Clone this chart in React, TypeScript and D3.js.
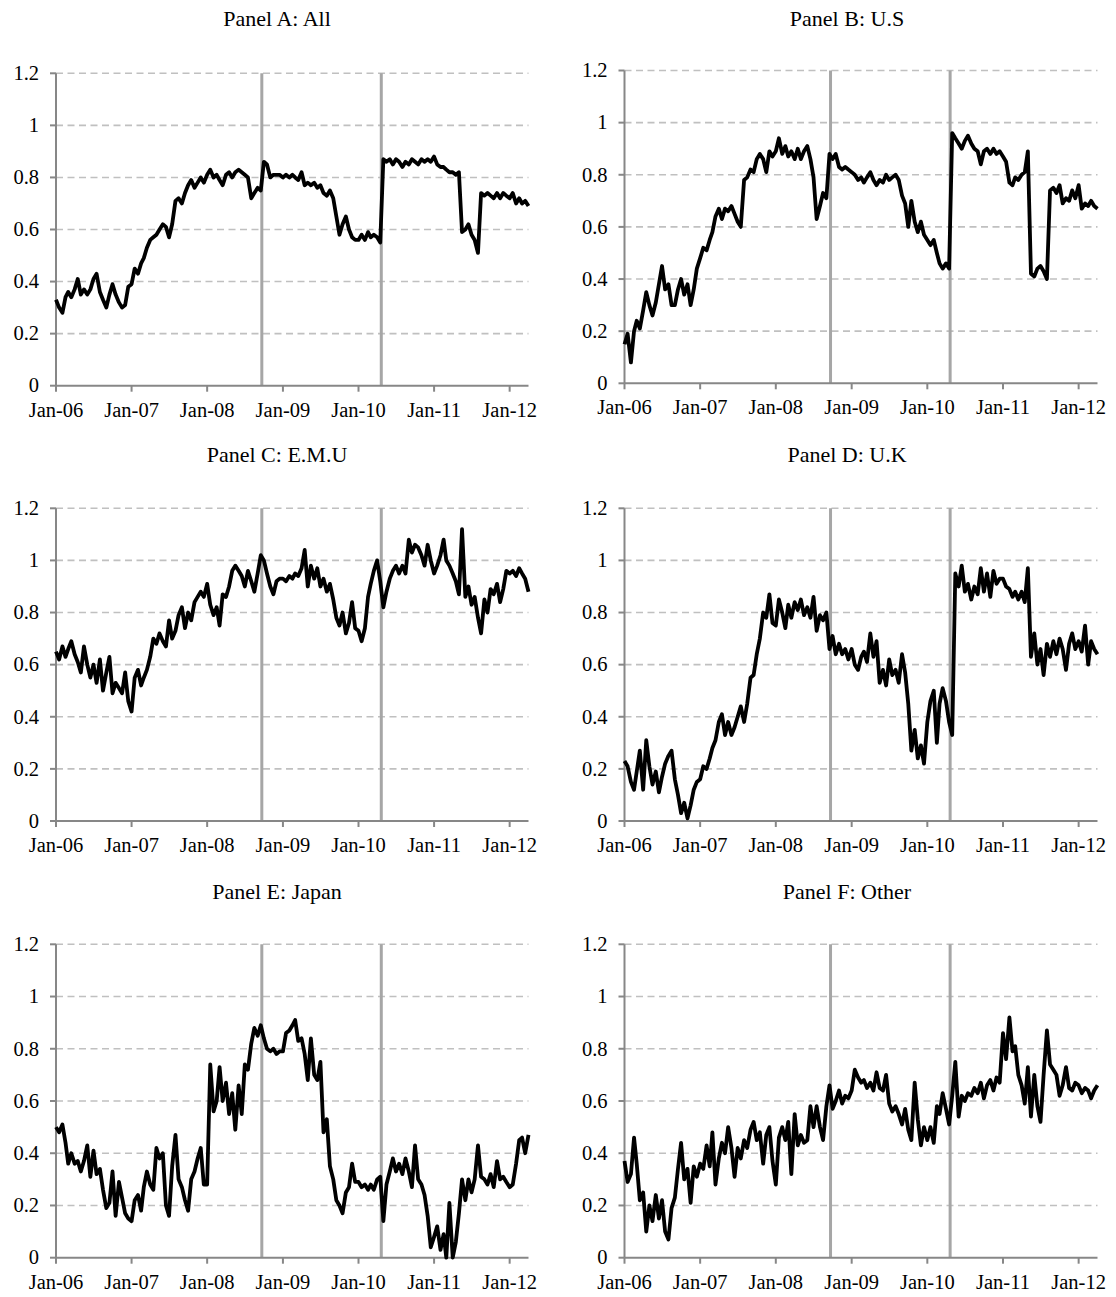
import React from "react";
import * as d3 from "d3";

// semi-monthly observations, Jan 2006 .. Apr 2012 (151 points)
const panelTitles = ["Panel A: All", "Panel B: U.S", "Panel C: E.M.U", "Panel D: U.K", "Panel E: Japan", "Panel F: Other"];

const seriesAll = [
  0.33,0.30,0.28,0.34,0.36,0.34,0.37,0.41,0.35,0.37,0.35,0.37,0.41,0.43,0.36,0.33,0.30,0.35,0.39,0.35,0.32,0.30,0.31,0.38,
  0.39,0.45,0.43,0.47,0.49,0.53,0.56,0.57,0.58,0.60,0.62,0.61,0.57,0.62,0.71,0.72,0.70,0.74,0.77,0.79,0.76,0.78,0.80,0.78,
  0.81,0.83,0.80,0.81,0.79,0.77,0.81,0.82,0.80,0.82,0.83,0.82,0.81,0.80,0.72,0.74,0.76,0.75,0.86,0.85,0.80,0.81,0.81,0.81,
  0.80,0.81,0.80,0.81,0.80,0.79,0.82,0.77,0.78,0.77,0.78,0.76,0.77,0.74,0.73,0.75,0.72,0.65,0.58,0.62,0.65,0.60,0.57,0.56,
  0.56,0.58,0.56,0.59,0.57,0.58,0.57,0.55,0.87,0.86,0.87,0.85,0.87,0.86,0.84,0.86,0.85,0.87,0.86,0.85,0.87,0.86,0.87,0.86,
  0.88,0.85,0.84,0.84,0.83,0.82,0.82,0.81,0.82,0.59,0.60,0.62,0.58,0.56,0.51,0.74,0.73,0.74,0.73,0.72,0.74,0.72,0.74,0.73,
  0.72,0.74,0.70,0.72,0.70,0.71,0.69,
];

const seriesUS = [
  0.15,0.19,0.08,0.20,0.24,0.21,0.28,0.35,0.30,0.26,0.31,0.38,0.45,0.36,0.38,0.30,0.30,0.36,0.40,0.34,0.38,0.30,0.36,0.44,
  0.48,0.52,0.51,0.55,0.58,0.64,0.67,0.63,0.67,0.66,0.68,0.65,0.62,0.60,0.78,0.79,0.82,0.81,0.86,0.88,0.86,0.81,0.89,0.87,
  0.89,0.94,0.88,0.91,0.87,0.89,0.86,0.90,0.86,0.89,0.91,0.86,0.79,0.63,0.68,0.73,0.71,0.88,0.86,0.88,0.83,0.82,0.83,0.82,
  0.81,0.80,0.78,0.79,0.77,0.79,0.81,0.78,0.76,0.78,0.77,0.80,0.78,0.79,0.80,0.78,0.72,0.69,0.60,0.70,0.62,0.58,0.62,0.57,
  0.55,0.53,0.55,0.50,0.46,0.44,0.46,0.44,0.96,0.94,0.92,0.90,0.93,0.95,0.92,0.90,0.89,0.84,0.89,0.90,0.88,0.90,0.88,0.89,
  0.87,0.85,0.77,0.76,0.79,0.78,0.80,0.81,0.89,0.42,0.41,0.44,0.45,0.43,0.40,0.74,0.75,0.73,0.76,0.69,0.71,0.70,0.74,0.71,
  0.76,0.67,0.69,0.68,0.70,0.68,0.67,
];

const seriesEMU = [
  0.65,0.62,0.67,0.63,0.66,0.69,0.64,0.61,0.57,0.67,0.60,0.55,0.60,0.53,0.62,0.50,0.57,0.63,0.49,0.53,0.51,0.49,0.57,0.46,
  0.42,0.55,0.58,0.52,0.55,0.58,0.63,0.70,0.68,0.72,0.69,0.67,0.77,0.70,0.73,0.79,0.82,0.74,0.80,0.77,0.84,0.86,0.88,0.86,
  0.91,0.83,0.79,0.82,0.75,0.87,0.86,0.90,0.96,0.98,0.96,0.94,0.90,0.96,0.92,0.88,0.95,1.02,1.00,0.95,0.90,0.87,0.92,0.93,
  0.93,0.92,0.94,0.93,0.95,0.94,0.97,1.04,0.90,0.98,0.93,0.97,0.90,0.93,0.88,0.91,0.85,0.78,0.75,0.80,0.72,0.76,0.84,0.74,
  0.73,0.69,0.74,0.86,0.91,0.96,1.00,0.92,0.82,0.88,0.93,0.96,0.98,0.95,0.98,0.95,1.08,1.03,1.06,1.05,1.02,0.98,1.06,1.00,
  0.95,0.98,1.02,1.08,1.00,0.98,0.95,0.92,0.87,1.12,0.86,0.90,0.83,0.86,0.78,0.72,0.85,0.80,0.89,0.87,0.91,0.84,0.89,0.96,
  0.95,0.96,0.94,0.97,0.95,0.93,0.88,
];

const seriesUK = [
  0.23,0.21,0.15,0.12,0.19,0.27,0.12,0.31,0.21,0.14,0.19,0.11,0.17,0.22,0.25,0.27,0.16,0.10,0.03,0.07,0.01,0.06,0.12,0.15,
  0.16,0.21,0.20,0.24,0.28,0.31,0.38,0.41,0.33,0.38,0.33,0.36,0.40,0.44,0.38,0.45,0.55,0.56,0.64,0.70,0.80,0.78,0.87,0.76,
  0.75,0.85,0.80,0.74,0.83,0.78,0.84,0.81,0.85,0.79,0.82,0.78,0.86,0.73,0.79,0.77,0.80,0.66,0.71,0.64,0.68,0.64,0.66,0.62,
  0.66,0.60,0.58,0.63,0.65,0.61,0.72,0.63,0.69,0.53,0.58,0.52,0.62,0.56,0.58,0.53,0.64,0.57,0.45,0.27,0.35,0.24,0.29,0.22,
  0.38,0.46,0.50,0.30,0.45,0.51,0.46,0.38,0.33,0.95,0.90,0.98,0.88,0.91,0.85,0.90,0.87,0.97,0.88,0.95,0.86,0.96,0.91,0.93,
  0.93,0.90,0.89,0.86,0.88,0.85,0.88,0.84,0.97,0.63,0.72,0.60,0.66,0.56,0.68,0.63,0.69,0.64,0.70,0.66,0.58,0.68,0.72,0.66,
  0.69,0.65,0.75,0.60,0.69,0.66,0.64,
];

const seriesJapan = [
  0.50,0.48,0.51,0.44,0.36,0.40,0.36,0.37,0.33,0.37,0.43,0.31,0.41,0.32,0.34,0.26,0.19,0.21,0.33,0.16,0.29,0.23,0.17,0.15,
  0.14,0.22,0.24,0.18,0.27,0.33,0.28,0.26,0.42,0.38,0.40,0.20,0.16,0.35,0.47,0.30,0.27,0.22,0.18,0.30,0.33,0.38,0.42,0.28,
  0.28,0.74,0.56,0.60,0.73,0.60,0.67,0.55,0.63,0.49,0.66,0.55,0.74,0.72,0.82,0.88,0.85,0.89,0.84,0.80,0.79,0.80,0.78,0.79,
  0.79,0.86,0.87,0.89,0.91,0.83,0.84,0.78,0.68,0.84,0.70,0.68,0.75,0.48,0.53,0.35,0.30,0.22,0.20,0.17,0.25,0.27,0.36,0.29,
  0.29,0.27,0.28,0.26,0.28,0.26,0.30,0.31,0.14,0.28,0.33,0.38,0.33,0.36,0.32,0.38,0.33,0.27,0.43,0.30,0.28,0.24,0.16,0.04,
  0.08,0.12,0.03,0.09,0.00,0.21,0.00,0.06,0.17,0.30,0.22,0.30,0.25,0.30,0.43,0.31,0.30,0.28,0.32,0.27,0.37,0.30,0.31,0.29,
  0.27,0.28,0.36,0.45,0.46,0.40,0.47,
];

const seriesOther = [
  0.37,0.29,0.32,0.46,0.36,0.22,0.25,0.10,0.20,0.14,0.24,0.15,0.22,0.10,0.07,0.19,0.23,0.34,0.44,0.30,0.34,0.21,0.35,0.31,
  0.36,0.34,0.43,0.35,0.48,0.28,0.38,0.44,0.40,0.50,0.42,0.31,0.42,0.38,0.45,0.42,0.49,0.52,0.45,0.48,0.36,0.47,0.50,0.37,
  0.28,0.46,0.50,0.45,0.52,0.32,0.55,0.43,0.47,0.44,0.45,0.58,0.50,0.58,0.50,0.45,0.58,0.66,0.57,0.60,0.64,0.59,0.62,0.61,
  0.64,0.72,0.69,0.67,0.68,0.65,0.67,0.64,0.71,0.65,0.64,0.70,0.59,0.56,0.58,0.55,0.51,0.57,0.49,0.45,0.67,0.53,0.43,0.50,
  0.45,0.50,0.44,0.58,0.55,0.63,0.57,0.51,0.62,0.75,0.54,0.62,0.60,0.63,0.62,0.65,0.63,0.67,0.61,0.66,0.68,0.64,0.69,0.67,
  0.86,0.76,0.92,0.79,0.81,0.70,0.66,0.59,0.73,0.54,0.70,0.58,0.52,0.70,0.87,0.74,0.72,0.70,0.62,0.66,0.73,0.65,0.64,0.67,
  0.66,0.63,0.65,0.64,0.61,0.64,0.66,
];

const allSeries = [seriesAll, seriesUS, seriesEMU, seriesUK, seriesJapan, seriesOther];

const yTicks = [0, 0.2, 0.4, 0.6, 0.8, 1, 1.2];
const xTickYears = [2006, 2007, 2008, 2009, 2010, 2011, 2012];
const eventDates = [new Date(2008, 8, 21), new Date(2010, 3, 21)];

const obsDate = (i: number) => new Date(2006, Math.floor(i / 2), i % 2 === 0 ? 1 : 16);
const fmtTick = d3.timeFormat("%b-%y");

const FONT = "'Liberation Serif', 'Times New Roman', serif";

const colX = [
  { x0: 56, x1: 528.5, titleX: 277 },
  { x0: 624.5, x1: 1097.5, titleX: 847 },
];
const rowY = [
  [{ top: 73.3, bottom: 385.7, titleY: 26 }, { top: 70.5, bottom: 383.3, titleY: 26 }],
  [{ top: 508.3, bottom: 821, titleY: 462 }, { top: 508.3, bottom: 821, titleY: 462 }],
  [{ top: 944.3, bottom: 1257.7, titleY: 899 }, { top: 944.3, bottom: 1257.7, titleY: 899 }],
];

function Panel({ idx }: { idx: number }) {
  const col = idx % 2;
  const row = Math.floor(idx / 2);
  const { x0, x1, titleX } = colX[col];
  const { top, bottom, titleY } = rowY[row][col];
  const values = allSeries[idx];

  const x = d3.scaleTime().domain([new Date(2006, 0, 1), new Date(2012, 3, 1)]).range([x0, x1]);
  const y = d3.scaleLinear().domain([0, 1.2]).range([bottom, top]);
  const line = d3
    .line<number>()
    .x((_, i) => x(obsDate(i)))
    .y((v) => y(v));

  return (
    <g>
      <text x={titleX} y={titleY} textAnchor="middle" fontFamily={FONT} fontSize={22} fill="#000">
        {panelTitles[idx]}
      </text>
      {yTicks.filter((t) => t > 0).map((t) => (
        <line key={"g" + t} x1={x0} x2={x1} y1={y(t)} y2={y(t)} stroke="#C0C0C0" strokeWidth={1.6} strokeDasharray="7,4.5" />
      ))}
      {eventDates.map((d, k) => (
        <line key={"e" + k} x1={x(d)} x2={x(d)} y1={y(0)} y2={y(1.2)} stroke="#A6A6A6" strokeWidth={3} />
      ))}
      <line x1={x0} x2={x0} y1={y(0)} y2={y(1.2)} stroke="#878787" strokeWidth={2} />
      <line x1={x0} x2={x1} y1={y(0)} y2={y(0)} stroke="#878787" strokeWidth={2} />
      {yTicks.map((t) => (
        <g key={"y" + t}>
          <line x1={x0 - 6} x2={x0} y1={y(t)} y2={y(t)} stroke="#878787" strokeWidth={2} />
          <text x={x0 - 17} y={y(t)} dy="0.33em" textAnchor="end" fontFamily={FONT} fontSize={20.5} fill="#000">
            {d3.format("~g")(t)}
          </text>
        </g>
      ))}
      {xTickYears.map((yr) => {
        const d = new Date(yr, 0, 1);
        return (
          <g key={"x" + yr}>
            <line x1={x(d)} x2={x(d)} y1={y(0)} y2={y(0) + 6} stroke="#878787" strokeWidth={2} />
            <text x={x(d)} y={y(0) + 31} textAnchor="middle" fontFamily={FONT} fontSize={20.5} fill="#000">
              {fmtTick(d)}
            </text>
          </g>
        );
      })}
      <path d={line(values) || ""} fill="none" stroke="#000" strokeWidth={3.8} strokeLinejoin="round" />
    </g>
  );
}

export default function App() {
  return (
    <svg
      width={1116}
      height={1297}
      viewBox="0 0 1116 1297"
      style={{ position: "absolute", left: 0, top: 0, background: "#fff" }}
    >
      <rect width={1116} height={1297} fill="#fff" />
      {panelTitles.map((_, i) => (
        <Panel key={i} idx={i} />
      ))}
    </svg>
  );
}
